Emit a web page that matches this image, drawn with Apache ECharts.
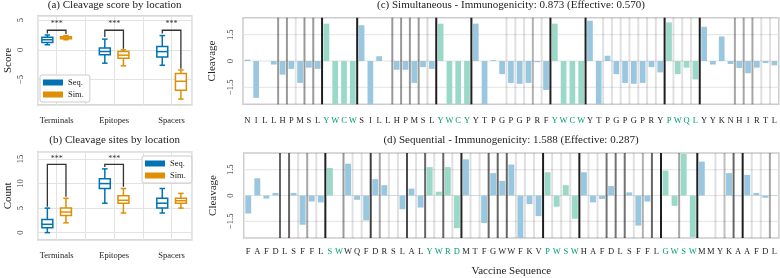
<!DOCTYPE html>
<html><head><meta charset="utf-8">
<script src="https://cdn.jsdelivr.net/npm/echarts@6/dist/echarts.min.js"></script>
<style>html,body{margin:0;padding:0;background:#fff}#c{width:780px;height:278px}</style>
</head><body><div id="c"></div>
<script>
// ---------------- data ----------------
const locations = ['Terminals', 'Epitopes', 'Spacers'];
// box statistics per location: [min, q1, median, q3, max]
const scoreSeq = [[0.85, 1.25, 1.7, 2.1, 2.5], [-2.25, -0.85, -0.28, 0.3, 1.8], [-2.6, -1.2, -0.3, 0.55, 2.4]];
const scoreSim = [[1.7, 1.85, 2.0, 2.2, 2.4], [-2.7, -1.4, -0.9, -0.3, 0.0], [-8.3, -6.8, -5.3, -4.0, -3.4]];
const sitesSeq = [[0, 1, 1.7, 2.7, 5], [6, 9, 10, 11, 13], [4, 5, 6, 7, 9]];
const sitesSim = [[2, 3.5, 4.2, 5, 7], [4, 6, 6.6, 7.5, 9], [5, 6, 6.5, 7, 8]];
// significance brackets: [location, bracket level, left leg end, right leg end]
const scoreBrackets = [[0, 3.3, 2.75, 2.65], [1, 3.3, 2.15, 0.2], [2, 3.3, 2.75, -3.2]];
const sitesBrackets = [[0, 13.9, 5.3, 7.3], [1, 13.9, 13.4, 9.35]];
const sigText = '***';

const simResidues = ['N','I','L','L','H','P','M','S','L','Y','W','C','W','S','I','L','L','H','P','M','S','L','Y','W','C','Y','Y','T','P','G','P','G','P','R','F','Y','W','C','W','Y','T','P','G','P','G','P','R','Y','P','W','Q','L','Y','Y','K','N','H','I','R','T','L'];
const simEpitopes = [[9, 12], [22, 25], [35, 38], [48, 51]];
const simCleavage = [0.08, -2.1, 0, -0.2, -0.78, -0.45, -1.25, -0.38, -0.45, 2.13, -3, -3, -3, 2.04, -3, 0.27, 0, -0.5, -0.5, -1.25, -0.35, -0.45, 2.13, -3, -3, -3, 2.13, -3, 0.05, -0.75, -1.25, -1.3, -1.25, -0.07, -1.65, 2.13, -3, -3, -3, 2.3, -3, 0.3, -0.75, -1.25, -1.3, -1.25, -0.35, -0.65, 2.2, -0.75, -0.38, -1.05, 1.95, -0.2, 1.4, -0.17, -0.4, -0.7, -0.38, -0.12, -0.25];
// predicted cleavage sites: [boundary index, probability]
const simSites = [[4,0.4],[5,0.4],[6,0.1],[7,0.4],[8,0.4],[9,0.88],[13,0.88],[17,0.4],[18,0.4],[19,0.4],[20,0.4],[21,0.15],[22,0.88],[26,0.88],[30,0.12],[31,0.12],[32,0.12],[33,0.3],[34,0.12],[35,0.88],[39,0.88],[41,0.12],[42,0.12],[43,0.12],[44,0.12],[45,0.12],[46,0.12],[47,0.12],[48,0.88],[49,0.12],[50,0.12],[51,0.12],[52,0.88],[56,0.35],[57,0.35],[58,0.35],[59,0.12],[60,0.12]];

const seqResidues = ['F','A','F','D','L','S','F','F','L','S','W','W','Q','F','D','R','S','L','A','L','Y','W','R','D','M','T','F','G','W','W','F','K','V','P','W','S','W','H','A','F','D','L','S','F','F','L','G','W','S','W','M','M','Y','K','A','A','F','D','L'];
const seqEpitopes = [[9, 10], [20, 23], [33, 36], [46, 49]];
const seqCleavage = [-1.05, 1.0, -0.18, 0.15, 0, 0.15, -1.7, -0.35, -0.4, 1.6, 0, 1.85, -0.25, -1.45, 0.95, 0.6, -0.02, -0.8, 0.4, -0.7, 1.65, 0.22, 1.65, -1.9, 2.1, 0.02, -1.6, 1.3, 0.85, 1.8, -3, -0.5, -1.2, 1.35, -0.65, 0.6, -1.35, 1.35, -0.4, -0.2, 0.55, 0, 0.18, -1.75, -0.35, 0, 1.45, -0.6, 2.42, -2.42, 1.97, 0, 0, 1.3, -0.04, 1.2, 0.15, -0.13, 0.03];
const seqSites = [[4,0.6],[5,0.6],[6,0.12],[7,0.35],[8,0.12],[9,0.88],[11,0.4],[12,0.12],[13,0.12],[14,0.75],[15,0.35],[16,0.12],[17,0.12],[18,0.7],[19,0.12],[20,0.6],[21,0.12],[22,0.6],[23,0.12],[24,0.85],[25,0.12],[26,0.12],[27,0.6],[28,0.6],[29,0.6],[30,0.12],[31,0.12],[32,0.12],[33,0.88],[34,0.12],[35,0.12],[36,0.12],[37,0.88],[38,0.12],[39,0.12],[40,0.55],[41,0.55],[42,0.55],[43,0.12],[44,0.3],[45,0.6],[46,0.88],[48,0.35],[50,0.88],[52,0.12],[53,0.25],[54,0.6],[55,0.88],[56,0.12],[57,0.12],[58,0.35]];

const cleavageTicks = [-1.5, 0, 1.5];
const titles = ['(a) Cleavage score by location', '(b) Cleavage sites by location',
  '(c) Simultaneous - Immunogenicity: 0.873 (Effective: 0.570)', '(d) Sequential - Immunogenicity: 1.588 (Effective: 0.287)'];

// ---------------- style ----------------
const FONT = 'Liberation Serif';
const BLUE = '#0173B2', ORANGE = '#DE8F05', GREEN = '#029E73';
const BAR_BLUE = '#99C7E0', BAR_GREEN = '#9AD8C7';
const GRIDC = '#e3e3e3';
const OFF = 0.162, BOXW = 0.19;
const minus = v => (v < 0 ? '\u2212' : '') + Math.abs(v);
const inEp = (i, eps) => eps.some(e => i >= e[0] && i <= e[1]);

const chart = echarts.init(document.getElementById('c'));

function boxRender(offset) {
  return function (params, api) {
    const x = api.value(0) + offset, hw = BOXW / 2;
    const a = api.coord([x - hw, api.value(4)]);
    const b = api.coord([x + hw, api.value(2)]);
    const m = api.coord([x, api.value(3)]);
    const top = api.coord([x, api.value(5)]);
    const bot = api.coord([x, api.value(1)]);
    const cap = api.size([hw / 2, 0])[0];
    const color = api.visual('color');
    const st = { stroke: color, lineWidth: 1.5 };
    return { type: 'group', children: [
      { type: 'line', shape: { x1: top[0], y1: top[1], x2: top[0], y2: a[1] }, style: st },
      { type: 'line', shape: { x1: bot[0], y1: bot[1], x2: bot[0], y2: b[1] }, style: st },
      { type: 'line', shape: { x1: top[0] - cap, y1: top[1], x2: top[0] + cap, y2: top[1] }, style: st },
      { type: 'line', shape: { x1: bot[0] - cap, y1: bot[1], x2: bot[0] + cap, y2: bot[1] }, style: st },
      { type: 'rect', shape: { x: a[0], y: a[1], width: b[0] - a[0], height: b[1] - a[1] }, style: { stroke: color, fill: '#fff', lineWidth: 1.5 } },
      { type: 'line', shape: { x1: a[0], y1: m[1], x2: b[0], y2: m[1] }, style: st }
    ] };
  };
}
function bracketRender(params, api) {
  const c = api.value(0), lvl = api.value(1);
  const pl = api.coord([c - OFF, api.value(2)]);
  const pr = api.coord([c + OFF, api.value(3)]);
  const t = api.coord([c, lvl]);
  return { type: 'group', children: [
    { type: 'polyline', shape: { points: [[pl[0], pl[1]], [pl[0], t[1]], [pr[0], t[1]], [pr[0], pr[1]]] }, style: { stroke: '#333', lineWidth: 1.3, fill: null } },
    { type: 'text', x: t[0], y: t[1] - 6, style: { text: sigText, fill: '#333', font: '8px ' + FONT, textAlign: 'center', textVerticalAlign: 'middle' } }
  ] };
}
function vlineRender(params, api) {
  const cs = params.coordSys;
  const p = api.coord([api.value(0), 0]);
  return { type: 'line', shape: { x1: p[0], y1: cs.y, x2: p[0], y2: cs.y + cs.height },
    style: { stroke: 'rgba(0,0,0,' + api.value(1) + ')', lineWidth: 2 } };
}
function hlineRender(params, api) {
  const cs = params.coordSys;
  const p = api.coord([0, api.value(1)]);
  return { type: 'line', shape: { x1: cs.x, y1: p[1], x2: cs.x + cs.width, y2: p[1] },
    style: { stroke: GRIDC, lineWidth: 1 } };
}

const txt = (size, color) => ({ fontFamily: FONT, fontSize: size, color: color || '#222' });

function locX(gi) {
  return { type: 'value', gridIndex: gi, min: -0.33, max: 2.35, splitNumber: 5,
    axisLine: { show: false }, axisTick: { show: false },
    axisLabel: Object.assign({ formatter: v => Number.isInteger(v) ? locations[v] : '', showMinLabel: false, showMaxLabel: false, margin: 11 }, txt(8.5)),
    splitLine: { show: true, lineStyle: { color: GRIDC, width: 1 } } };
}
function resX(gi, res, eps, margin, extra) {
  return Object.assign({ type: 'category', gridIndex: gi, data: res,
    axisLine: { show: false }, axisTick: { show: false }, splitLine: { show: false },
    axisLabel: { interval: 0, margin: margin, formatter: (v, i) => (inEp(i, eps) ? '{g|' : '{k|') + v + '}',
      rich: { g: txt(8.5, GREEN), k: txt(8.5, '#222') } } }, extra || {});
}
function hidX(gi, n) { return { type: 'value', gridIndex: gi, min: -0.5, max: n - 0.5, show: false }; }
function cleavY(gi) {
  return { type: 'value', gridIndex: gi, min: -2.47, max: 2.47,
    axisLine: { show: false }, axisTick: { show: false }, splitLine: { show: false },
    axisLabel: Object.assign({ customValues: cleavageTicks, rotate: 90, margin: 8, formatter: v => minus(Number(v).toFixed(1)) }, txt(8.5, '#333')),
    name: 'Cleavage', nameLocation: 'middle', nameGap: 25, nameTextStyle: txt(11) };
}

const legendBase = { orient: 'vertical', itemWidth: 20, itemHeight: 6, itemGap: 3, padding: [3, 6, 3, 3],
  borderColor: '#ccc', borderWidth: 1, borderRadius: 2, backgroundColor: '#fff', icon: 'rect',
  selectedMode: false, textStyle: txt(8.5), data: ['Seq.', 'Sim.'] };

const option = {
  animation: false,
  backgroundColor: '#fff',
  title: [
    { text: titles[0], left: 114.7, top: 0 }, { text: titles[1], left: 114.7, top: 135 },
    { text: titles[2], left: 511, top: 0 }, { text: titles[3], left: 511, top: 135 }
  ].map(t => Object.assign(t, { textAlign: 'center', padding: 0, textStyle: Object.assign({ fontWeight: 'normal' }, txt(11)) })),
  legend: [
    Object.assign({}, legendBase, { left: 40, top: 75 }),
    Object.assign({}, legendBase, { left: 142, top: 156 })
  ],
  grid: [
    { left: 37.7, top: 16, width: 154, height: 89 },
    { left: 37.7, top: 151.7, width: 154, height: 88.3 },
    { left: 243, top: 17.7, width: 536, height: 86.6 },
    { left: 243.7, top: 153, width: 535.3, height: 86 }
  ].map(g => Object.assign(g, { show: true, borderColor: '#cccccc', borderWidth: 1.5, backgroundColor: 'transparent' })),
  xAxis: [
    locX(0), locX(1),
    resX(2, simResidues, simEpitopes, 12), hidX(2, simResidues.length),
    resX(3, seqResidues, seqEpitopes, 9.5, { name: 'Vaccine Sequence', nameLocation: 'middle', nameGap: 28, nameTextStyle: txt(11) }), hidX(3, seqResidues.length)
  ],
  yAxis: [
    { type: 'value', gridIndex: 0, min: -9.3, max: 5.7, splitNumber: 3,
      axisLine: { show: false }, axisTick: { show: false },
      axisLabel: Object.assign({ rotate: 90, margin: 12, showMinLabel: false, showMaxLabel: false, formatter: minus }, txt(8.5, '#333')),
      splitLine: { lineStyle: { color: GRIDC } },
      name: 'Score', nameLocation: 'middle', nameGap: 24, nameTextStyle: txt(11) },
    { type: 'value', gridIndex: 1, min: -1.5, max: 16.5, splitNumber: 4,
      axisLine: { show: false }, axisTick: { show: false },
      axisLabel: Object.assign({ rotate: 90, margin: 12, showMinLabel: false, showMaxLabel: false, formatter: minus }, txt(8.5, '#333')),
      splitLine: { lineStyle: { color: GRIDC } },
      name: 'Count', nameLocation: 'middle', nameGap: 24, nameTextStyle: txt(11) },
    cleavY(2), cleavY(3)
  ],
  series: [
    { type: 'custom', name: 'Seq.', xAxisIndex: 0, yAxisIndex: 0, itemStyle: { color: BLUE }, renderItem: boxRender(-OFF),
      encode: { x: 0, y: [1, 2, 3, 4, 5] }, data: scoreSeq.map((s, i) => [i].concat(s)), z: 3 },
    { type: 'custom', name: 'Sim.', xAxisIndex: 0, yAxisIndex: 0, itemStyle: { color: ORANGE }, renderItem: boxRender(OFF),
      encode: { x: 0, y: [1, 2, 3, 4, 5] }, data: scoreSim.map((s, i) => [i].concat(s)), z: 3 },
    { type: 'custom', name: 'Seq.', xAxisIndex: 1, yAxisIndex: 1, itemStyle: { color: BLUE }, renderItem: boxRender(-OFF),
      encode: { x: 0, y: [1, 2, 3, 4, 5] }, data: sitesSeq.map((s, i) => [i].concat(s)), z: 3 },
    { type: 'custom', name: 'Sim.', xAxisIndex: 1, yAxisIndex: 1, itemStyle: { color: ORANGE }, renderItem: boxRender(OFF),
      encode: { x: 0, y: [1, 2, 3, 4, 5] }, data: sitesSim.map((s, i) => [i].concat(s)), z: 3 },
    { type: 'custom', name: 'sig-a', xAxisIndex: 0, yAxisIndex: 0, renderItem: bracketRender, encode: { x: 0, y: [1, 2, 3] }, data: scoreBrackets, z: 4 },
    { type: 'custom', name: 'sig-b', xAxisIndex: 1, yAxisIndex: 1, renderItem: bracketRender, encode: { x: 0, y: [1, 2, 3] }, data: sitesBrackets, z: 4 },

    { type: 'custom', name: 'grid-c', xAxisIndex: 3, yAxisIndex: 2, renderItem: hlineRender, encode: { x: 0, y: 1 }, data: cleavageTicks.map(v => [0, v]), z: 1 },
    { type: 'bar', name: 'cleav-c', xAxisIndex: 2, yAxisIndex: 2, barWidth: '65%', clip: true, z: 2,
      data: simCleavage.map((v, i) => ({ value: v, itemStyle: { color: inEp(i, simEpitopes) ? BAR_GREEN : BAR_BLUE } })) },
    { type: 'custom', name: 'sites-c', xAxisIndex: 3, yAxisIndex: 2, renderItem: vlineRender, encode: { x: 0, y: 1 }, data: simSites.map(s => [s[0] - 0.5, s[1]]), z: 3 },

    { type: 'custom', name: 'grid-d', xAxisIndex: 5, yAxisIndex: 3, renderItem: hlineRender, encode: { x: 0, y: 1 }, data: cleavageTicks.map(v => [0, v]), z: 1 },
    { type: 'bar', name: 'cleav-d', xAxisIndex: 4, yAxisIndex: 3, barWidth: '65%', clip: true, z: 2,
      data: seqCleavage.map((v, i) => ({ value: v, itemStyle: { color: inEp(i, seqEpitopes) ? BAR_GREEN : BAR_BLUE } })) },
    { type: 'custom', name: 'sites-d', xAxisIndex: 5, yAxisIndex: 3, renderItem: vlineRender, encode: { x: 0, y: 1 }, data: seqSites.map(s => [s[0] - 0.5, s[1]]), z: 3 }
  ]
};
chart.setOption(option);
</script></body></html>
